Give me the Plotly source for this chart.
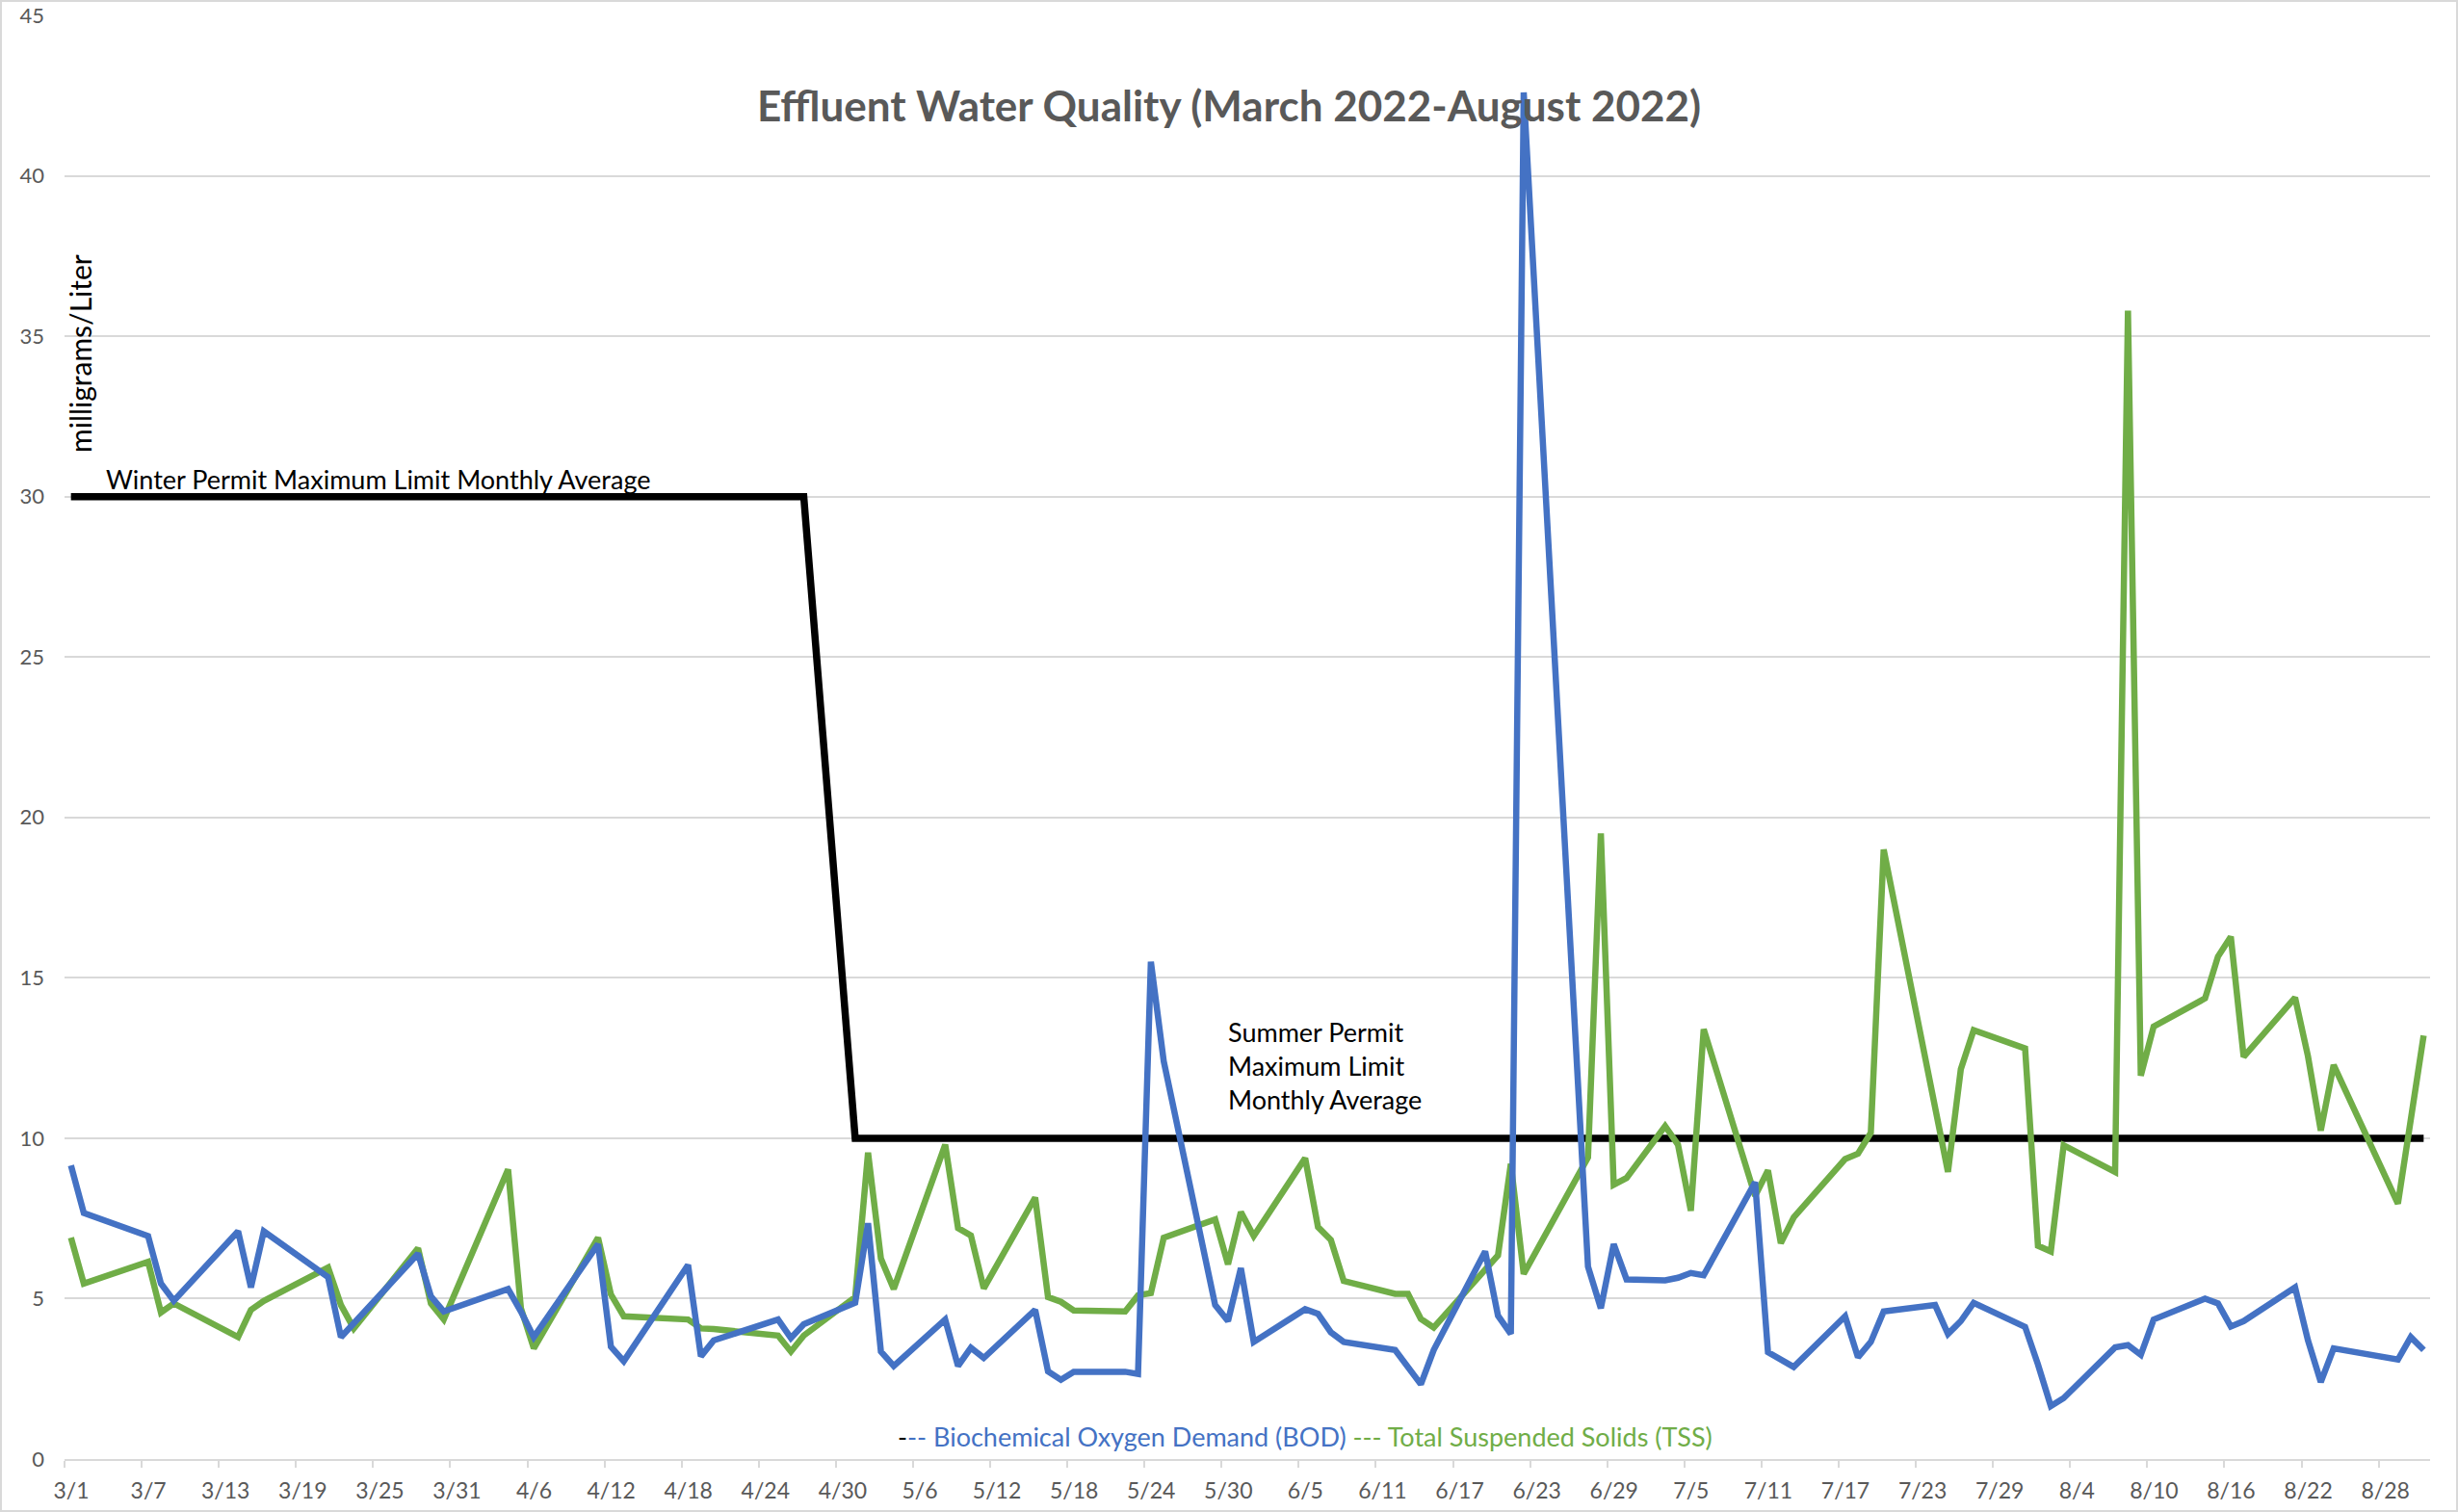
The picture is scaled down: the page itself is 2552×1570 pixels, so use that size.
import plotly.graph_objects as go
import pandas as pd

# ---------------- data ----------------
bod_dates = ["2022-03-01","2022-03-02","2022-03-07","2022-03-08","2022-03-09","2022-03-14","2022-03-15","2022-03-16",
             "2022-03-21","2022-03-22","2022-03-28","2022-03-29","2022-03-30",
             "2022-04-04","2022-04-05","2022-04-06","2022-04-11","2022-04-12","2022-04-13","2022-04-18","2022-04-19",
             "2022-04-20","2022-04-25","2022-04-26","2022-04-27",
             "2022-05-01","2022-05-02","2022-05-03","2022-05-04","2022-05-08","2022-05-09","2022-05-10","2022-05-11",
             "2022-05-15","2022-05-16","2022-05-17","2022-05-18","2022-05-22","2022-05-23","2022-05-24","2022-05-25",
             "2022-05-29","2022-05-30","2022-05-31",
             "2022-06-01","2022-06-05","2022-06-06","2022-06-07","2022-06-08","2022-06-12","2022-06-14","2022-06-15",
             "2022-06-19","2022-06-20","2022-06-21","2022-06-22","2022-06-27","2022-06-28","2022-06-29","2022-06-30",
             "2022-07-03","2022-07-04","2022-07-05","2022-07-06","2022-07-10","2022-07-11","2022-07-13","2022-07-17",
             "2022-07-18","2022-07-19","2022-07-20","2022-07-24","2022-07-25","2022-07-26","2022-07-27","2022-07-31",
             "2022-08-01","2022-08-02","2022-08-03","2022-08-07","2022-08-08","2022-08-09","2022-08-10","2022-08-14",
             "2022-08-15","2022-08-16","2022-08-17","2022-08-21","2022-08-22","2022-08-23","2022-08-24","2022-08-29",
             "2022-08-30","2022-08-31"]
bod_values = [9.15, 7.67, 6.95, 5.47, 4.93, 7.1, 5.35, 7.1, 5.67, 3.8, 6.4, 5.07, 4.6,
              5.3, 4.6, 3.8, 6.7, 3.5, 3.05, 6.05, 3.2, 3.7, 4.35, 3.77, 4.2,
              4.87, 7.35, 3.35, 2.9, 4.35, 2.9, 3.47, 3.15, 4.65, 2.73, 2.47, 2.72, 2.72, 2.65, 15.5, 12.4,
              4.8, 4.3, 5.95,
              3.65, 4.67, 4.53, 3.95, 3.65, 3.4, 2.33, 3.4, 6.47, 4.47, 3.9, 42.6, 6.0, 4.7, 6.7, 5.6,
              5.57, 5.65, 5.8, 5.73, 8.63, 3.33, 2.87, 4.45, 3.17, 3.65, 4.6, 4.8, 3.9, 4.3, 4.87, 4.12,
              2.95, 1.65, 1.9, 3.48, 3.55, 3.25, 4.35, 5.0, 4.85, 4.13, 4.3, 5.35, 3.7, 2.4, 3.45, 3.1, 3.8, 3.4]

tss_dates = ["2022-03-01","2022-03-02","2022-03-07","2022-03-08","2022-03-09","2022-03-14","2022-03-15","2022-03-16",
             "2022-03-21","2022-03-22","2022-03-23","2022-03-28","2022-03-29","2022-03-30",
             "2022-04-04","2022-04-05","2022-04-06","2022-04-11","2022-04-12","2022-04-13","2022-04-18","2022-04-19",
             "2022-04-20","2022-04-25","2022-04-26","2022-04-27",
             "2022-05-01","2022-05-02","2022-05-03","2022-05-04","2022-05-08","2022-05-09","2022-05-10","2022-05-11",
             "2022-05-15","2022-05-16","2022-05-17","2022-05-18","2022-05-22","2022-05-23","2022-05-24","2022-05-25",
             "2022-05-29","2022-05-30","2022-05-31",
             "2022-06-01","2022-06-05","2022-06-06","2022-06-07","2022-06-08","2022-06-12","2022-06-13","2022-06-14",
             "2022-06-15","2022-06-19","2022-06-20","2022-06-21","2022-06-22","2022-06-27","2022-06-28","2022-06-29",
             "2022-06-30",
             "2022-07-03","2022-07-04","2022-07-05","2022-07-06","2022-07-10","2022-07-11","2022-07-12","2022-07-13",
             "2022-07-17","2022-07-18","2022-07-19","2022-07-20","2022-07-25","2022-07-26","2022-07-27","2022-07-31",
             "2022-08-01","2022-08-02","2022-08-03","2022-08-07","2022-08-08","2022-08-09","2022-08-10","2022-08-14",
             "2022-08-15","2022-08-16","2022-08-17","2022-08-21","2022-08-22","2022-08-23","2022-08-24","2022-08-29",
             "2022-08-31"]
tss_values = [6.9, 5.47, 6.15, 4.57, 4.85, 3.8, 4.65, 4.93, 5.97, 4.8, 4.07, 6.57, 4.85, 4.35,
              9.03, 4.7, 3.45, 6.9, 5.13, 4.45, 4.35, 4.07, 4.05, 3.85, 3.35, 3.85,
              5.05, 9.55, 6.25, 5.3, 9.8, 7.2, 6.97, 5.32, 8.15, 5.05, 4.9, 4.63, 4.6, 5.1, 5.17, 6.9,
              7.47, 6.07, 7.7,
              6.95, 9.38, 7.23, 6.83, 5.55, 5.15, 5.15, 4.37, 4.1, 5.9, 6.35, 9.2, 5.77, 9.4, 19.5, 8.55, 8.76,
              10.38, 9.8, 7.74, 13.4, 8.2, 9.0, 6.73, 7.53, 9.35, 9.52, 10.17, 19.0, 8.95, 12.15, 13.37, 12.8,
              6.65, 6.47, 9.78, 8.95, 35.8, 11.95, 13.48, 14.36, 15.66, 16.28, 12.54, 14.38, 12.56, 10.24, 12.28,
              7.96, 13.2]

limit_dates = ["2022-03-01", "2022-04-27", "2022-05-01", "2022-08-31"]
limit_values = [30, 30, 10, 10]

tick_labels = ["3/1", "3/7", "3/13", "3/19", "3/25", "3/31", "4/6", "4/12", "4/18", "4/24", "4/30",
               "5/6", "5/12", "5/18", "5/24", "5/30", "6/5", "6/11", "6/17", "6/23", "6/29",
               "7/5", "7/11", "7/17", "7/23", "7/29", "8/4", "8/10", "8/16", "8/22", "8/28"]

title_text = "Effluent Water Quality (March 2022-August 2022)"
y_title = "milligrams/Liter"
winter_label = "Winter Permit Maximum Limit Monthly Average"
summer_label = "Summer Permit<br>Maximum Limit<br>Monthly Average"

# ---------------- geometry (pixels) ----------------
W, H = 2552, 1570
PLOT_L, PLOT_R, PLOT_T, PLOT_B = 67, 2523, 16, 1515   # plot area in pixels
ML, MR, MT, MB = PLOT_L, W - PLOT_R, PLOT_T, H - PLOT_B
PW, PH = PLOT_R - PLOT_L, PLOT_B - PLOT_T
YMAX = 45


def px_x(px):
    return (px - PLOT_L) / PW


def px_y(py):
    return (PLOT_B - py) / PH


FONT = "Lato, Carlito, Calibri, 'Open Sans', sans-serif"
BLUE, GREEN, GRAY = "#4472C4", "#70AD47", "#595959"
GRID = "#D9D9D9"

# Excel-style date axis: each day is a bucket, points sit in the middle, ticks at bucket edges
half_day = pd.Timedelta(hours=12)
tick_vals = [pd.Timestamp("2022/" + t) - half_day for t in tick_labels]
x_start = pd.Timestamp(limit_dates[0]) - half_day
x_end = pd.Timestamp(limit_dates[-1]) + half_day

fig = go.Figure()
fig.add_trace(go.Scatter(x=limit_dates, y=limit_values, mode="lines",
                         name="Permit Maximum Limit Monthly Average",
                         line=dict(color="black", width=7.5)))
fig.add_trace(go.Scatter(x=tss_dates, y=tss_values, mode="lines",
                         name="Total Suspended Solids (TSS)",
                         line=dict(color=GREEN, width=6.5)))
fig.add_trace(go.Scatter(x=bod_dates, y=bod_values, mode="lines",
                         name="Biochemical Oxygen Demand (BOD)",
                         line=dict(color=BLUE, width=6.5)))

fig.update_layout(
    width=W, height=H, autosize=False,
    margin=dict(l=ML, r=MR, t=MT, b=MB, pad=0, autoexpand=False),
    paper_bgcolor="white", plot_bgcolor="white",
    showlegend=False,
    font=dict(family=FONT, color=GRAY),
    title=dict(text="<b>" + title_text + "</b>", x=0.5, xref="container", xanchor="center",
               y=1 - 111 / H, yref="container", yanchor="middle", automargin=False,
               font=dict(family=FONT, size=44, color=GRAY)),
    xaxis=dict(type="date", range=[x_start, x_end], tickmode="array",
               tickvals=tick_vals, ticktext=tick_labels, automargin=False,
               ticks="outside", ticklen=7, tickwidth=2, tickcolor=GRID,
               showline=True, linecolor=GRID, linewidth=2, showgrid=False, zeroline=False,
               tickfont=dict(family=FONT, size=23, color=GRAY),
               ticklabelshift=7, ticklabelstandoff=4, ticklabeloverflow="allow"),
    yaxis=dict(range=[0, YMAX], tick0=0, dtick=5, showgrid=True, gridcolor=GRID, gridwidth=2,
               showline=False, zeroline=False, ticks="", automargin=False,
               tickfont=dict(family=FONT, size=22, color=GRAY), ticklabelstandoff=20,
               ticklabeloverflow="allow"),
)

fig.add_annotation(text=winter_label, xref="paper", yref="paper",
                   x=px_x(108), y=px_y(497), xanchor="left", yanchor="middle",
                   showarrow=False, font=dict(family=FONT, size=27, color="black"))
fig.add_annotation(text=summer_label, xref="paper", yref="paper", align="left",
                   x=px_x(1273), y=px_y(1106), xanchor="left", yanchor="middle",
                   showarrow=False, font=dict(family=FONT, size=27, color="black"))
fig.add_annotation(text=y_title, xref="paper", yref="paper", textangle=-90,
                   x=px_x(83), y=px_y(367), xanchor="center", yanchor="middle",
                   showarrow=False, font=dict(family=FONT, size=30, color="black"))
legend_html = ('<span style="color:black">-</span><span style="color:%s">-- Biochemical Oxygen Demand (BOD)</span>'
               ' <span style="color:%s">--- Total Suspended Solids (TSS)</span>') % (BLUE, GREEN)
fig.add_annotation(text=legend_html, xref="paper", yref="paper",
                   x=px_x(1355), y=px_y(1491), xanchor="center", yanchor="middle",
                   showarrow=False, font=dict(family=FONT, size=27))

# chart-area border
fig.add_shape(type="rect", xref="paper", yref="paper",
              x0=px_x(1), x1=px_x(W - 1), y0=px_y(H - 1), y1=px_y(1),
              line=dict(color=GRID, width=2), fillcolor="rgba(0,0,0,0)", layer="below")

# remove the default page margin so the figure sits at the window origin
fig.write_html("out.html", config={"displayModeBar": False},
               post_script="document.body.style.margin='0';document.body.style.overflow='hidden';")
